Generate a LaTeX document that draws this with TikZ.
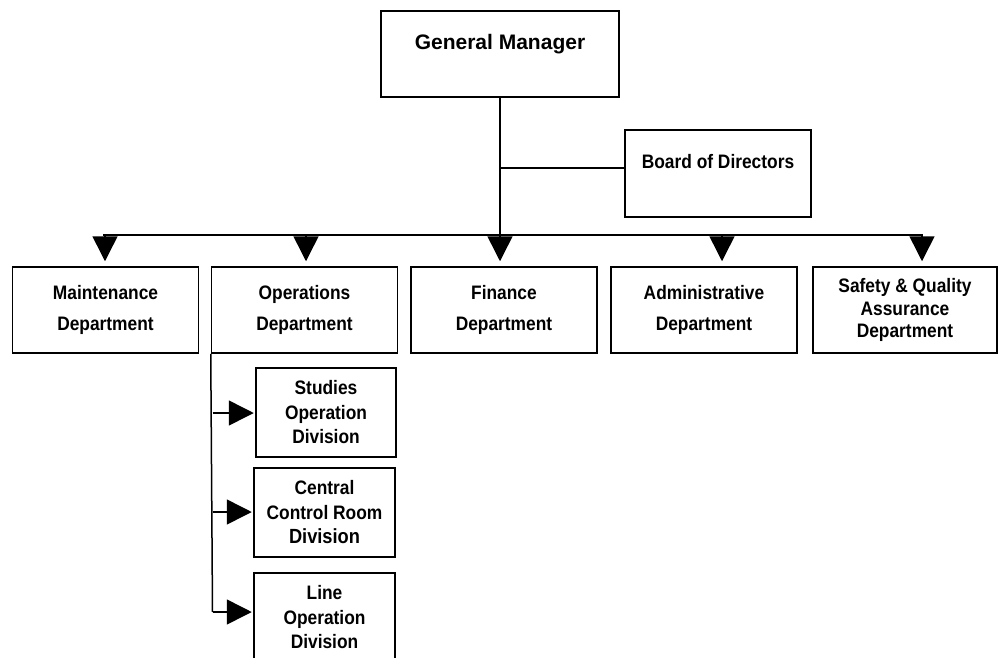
\documentclass[tikz,border=0pt]{standalone}
\usepackage{fontspec}
\setmainfont{Liberation Sans}
\newfontfamily\narrowfont{Liberation Sans}[FakeStretch=0.89]
\usetikzlibrary{arrows.meta}
\begin{document}
\begin{tikzpicture}[x=1pt,y=-1pt,line width=1.5pt,
  box/.style={draw, inner sep=0pt, align=center, font=\narrowfont\bfseries\fontsize{19.5}{31}\selectfont},
  dept/.style={box, minimum width=186pt, minimum height=86pt},
  divbox/.style={box, minimum width=141pt, minimum height=89pt, font=\narrowfont\bfseries\fontsize{19.5}{24.5}\selectfont},
  lbl/.style={inner sep=0pt, anchor=base, font=\narrowfont\bfseries\fontsize{19.5}{24}\selectfont},
  downarr/.style={-{Triangle[width=25pt,length=25pt]}, shorten >=5pt},
  rightarr/.style={-{Triangle[width=25pt,length=25pt]}, shorten >=1.5pt}]
\path[use as bounding box] (0,0) rectangle (999,657);
\clip (0,0) rectangle (999,657);
% top boxes
\node[draw, minimum width=238pt, minimum height=86pt, inner sep=0pt] (gm) at (500,54) {};
\node[lbl, font=\bfseries\fontsize{21}{25}\selectfont] (gmT) at (500,49) {General Manager};
\node[draw, minimum width=186pt, minimum height=87pt, inner sep=0pt] (bod) at (718,173.5) {};
\node[lbl] (bodT) at (718,168) {Board of Directors};
% departments
\node[dept] (mnt) at (105.5,310) {Maintenance\\Department};
\node[dept] (ops) at (304.5,310) {Operations\\Department};
\node[dept] (fin) at (504,310) {Finance\\Department};
\node[dept] (adm) at (704,310) {Administrative\\Department};
\node[dept, minimum width=184pt, font=\narrowfont\bfseries\fontsize{19.5}{22.5}\selectfont] (saf) at (905,310) {Safety \& Quality\\Assurance\\Department};
% divisions
\node[divbox, minimum width=140pt] (sod) at (326,412.5) {Studies\\Operation\\Division};
\node[divbox] (ccr) at (324.5,512.5) {Central\\Control Room\\{\fontsize{20.5}{24.5}\selectfont Division}};
\node[divbox] (lod) at (324.5,617.5) {Line\\Operation\\Division};
% connectors
\coordinate (busL) at (103,235);
\coordinate (busR) at (923,235);
\coordinate (busM) at (500,235);
\coordinate (jb) at (500,168);
\draw (gm.south) -- (busM);
\draw (jb) -- (jb -| bod.west);
\draw (busL) -- (busR);
\coordinate (a1) at (105,235);
\coordinate (a2) at (306,235);
\coordinate (a3) at (500,235);
\coordinate (a4) at (722,235);
\coordinate (a5) at (922,235);
\draw[downarr] (a1) -- (a1 |- mnt.north);
\draw[downarr] (a2) -- (a2 |- ops.north);
\draw[downarr] (a3) -- (a3 |- fin.north);
\draw[downarr] (a4) -- (a4 |- adm.north);
\draw[downarr] (a5) -- (a5 |- saf.north);
% operations sub-divisions
\coordinate (v1) at (212.5,413);
\coordinate (v2) at (212.5,512);
\coordinate (v3) at (212.5,612);
\draw (ops.south west) -- (v3);
\draw[rightarr] (v1) -- (v1 -| sod.west);
\draw[rightarr] (v2) -- (v2 -| ccr.west);
\draw[rightarr] (v3) -- (v3 -| lod.west);
\end{tikzpicture}
\end{document}
